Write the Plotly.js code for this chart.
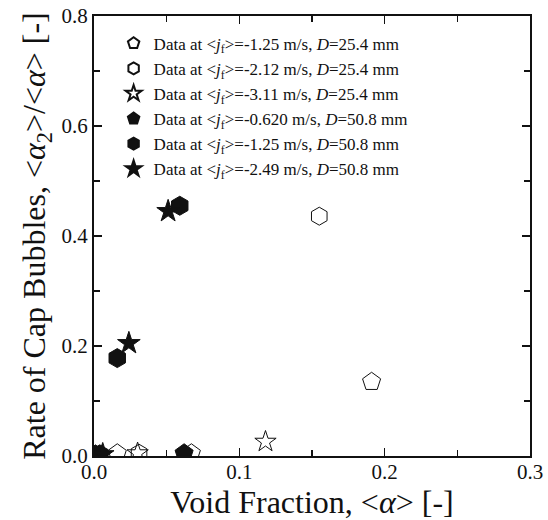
<!DOCTYPE html>
<html><head><meta charset="utf-8">
<script src="https://cdn.plot.ly/plotly-3.0.1.min.js"></script>
<style>body{margin:0;background:#fff}#c{width:548px;height:520px}</style>
</head><body><div id="c"></div>
<script>
const seriesNames = [
  "Data at &lt;<i>j</i><sub>f</sub>&gt;=-1.25 m/s, <i>D</i>=25.4 mm",
  "Data at &lt;<i>j</i><sub>f</sub>&gt;=-2.12 m/s, <i>D</i>=25.4 mm",
  "Data at &lt;<i>j</i><sub>f</sub>&gt;=-3.11 m/s, <i>D</i>=25.4 mm",
  "Data at &lt;<i>j</i><sub>f</sub>&gt;=-0.620 m/s, <i>D</i>=50.8 mm",
  "Data at &lt;<i>j</i><sub>f</sub>&gt;=-1.25 m/s, <i>D</i>=50.8 mm",
  "Data at &lt;<i>j</i><sub>f</sub>&gt;=-2.49 m/s, <i>D</i>=50.8 mm"
];
const symbols = ["pentagon-open","hexagon-open","star-open","pentagon","hexagon","star"];
const voidFraction = [
  [0.016, 0.067, 0.191],
  [0.031, 0.155],
  [0.030, 0.118],
  [0.001, 0.062],
  [0.004, 0.016, 0.059],
  [0.006, 0.024, 0.051]
];
const capRate = [
  [0.005, 0.005, 0.135],
  [0.005, 0.436],
  [0.005, 0.026],
  [0.003, 0.005],
  [0.003, 0.178, 0.455],
  [0.003, 0.205, 0.445]
];
const sizes = [19, 18, 16, 19, 19, 17];

const traces = seriesNames.map((n, i) => ({
  type: "scatter", mode: "markers", name: n,
  x: voidFraction[i], y: capRate[i],
  marker: {symbol: symbols[i], size: sizes[i], color: "#111",
           line: {color: "#111", width: 1}}
}));

const fam = "Liberation Serif";
const font = {family: fam, color: "#111"};
const axisCommon = {
  showgrid: false, zeroline: false, showline: true, linecolor: "#111", linewidth: 2,
  mirror: "ticks", ticks: "inside", ticklen: 8, tickwidth: 1.5, tickcolor: "#111",
  tickfont: {family: fam, size: 21, color: "#111"}, tickformat: ".1f",
  minor: {ticks: "inside", ticklen: 6, tickwidth: 1.5, tickcolor: "#111"}
};
const layout = {
  width: 548, height: 520,
  margin: {l: 94, r: 18, t: 16, b: 64},
  paper_bgcolor: "#fff", plot_bgcolor: "#fff",
  font: font,
  showlegend: true,
  legend: {x: 0.045, y: 0.978, xanchor: "left", yanchor: "top",
           bgcolor: "rgba(0,0,0,0)", borderwidth: 0,
           font: {family: fam, size: 17, color: "#111"},
           itemsizing: "constant", tracegroupgap: 0},
  xaxis: Object.assign({}, axisCommon, {
    range: [0, 0.3], dtick: 0.1, tick0: 0, ticklabelstandoff: -4,
    minor: Object.assign({}, axisCommon.minor, {dtick: 0.05}),
    title: {text: "Void Fraction, &lt;<i>α</i>&gt; [-]", font: {family: fam, size: 32, color: "#111"}, standoff: 6}
  }),
  yaxis: Object.assign({}, axisCommon, {
    range: [0, 0.8], dtick: 0.2, tick0: 0,
    minor: Object.assign({}, axisCommon.minor, {dtick: 0.1}),
    title: {text: "Rate of Cap Bubbles, &lt;<i>α</i><sub>2</sub>&gt;/&lt;<i>α</i>&gt; [-]", font: {family: fam, size: 32, color: "#111"}, standoff: 6}
  })
};
Plotly.newPlot("c", traces, layout, {displayModeBar: false, staticPlot: true});
</script></body></html>
